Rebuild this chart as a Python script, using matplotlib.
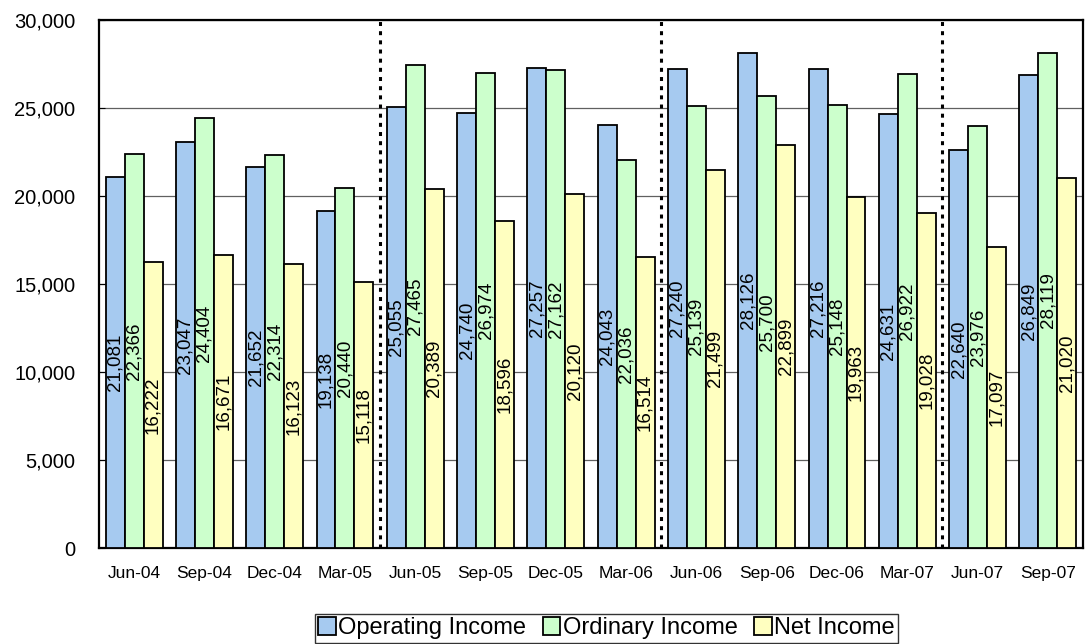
import numpy as np
import matplotlib
matplotlib.use("Agg")
import matplotlib.pyplot as plt

plt.rcParams['font.family'] = ['Liberation Sans', 'DejaVu Sans']

quarters = ["Jun-04", "Sep-04", "Dec-04", "Mar-05", "Jun-05", "Sep-05", "Dec-05",
            "Mar-06", "Jun-06", "Sep-06", "Dec-06", "Mar-07", "Jun-07", "Sep-07"]
operating = [21081, 23047, 21652, 19138, 25055, 24740, 27257,
             24043, 27240, 28126, 27216, 24631, 22640, 26849]
ordinary = [22366, 24404, 22314, 20440, 27465, 26974, 27162,
            22036, 25139, 25700, 25148, 26922, 23976, 28119]
net = [16222, 16671, 16123, 15118, 20389, 18596, 20120,
       16514, 21499, 22899, 19963, 19028, 17097, 21020]

series = [("Operating Income", operating, "#A6CAF0"),
          ("Ordinary Income", ordinary, "#CCFFCC"),
          ("Net Income", net, "#FFFFC0")]

fig = plt.figure(figsize=(10.85, 6.44), dpi=100)
ax = fig.add_axes([0.0912, 0.149, 0.907, 0.82])

x = np.arange(len(quarters))
w = 0.27
for i, (name, vals, col) in enumerate(series):
    pos = x + (i - 1) * w
    bars = ax.bar(pos, vals, width=w, color=col, edgecolor="black", linewidth=1.3,
                  label=name, zorder=3)
    for b, v in zip(bars, vals):
        ax.text(b.get_x() + b.get_width() / 2, v / 2, f"{v:,}", rotation=90,
                ha="center", va="center", fontsize=13.5, zorder=4)

# fiscal year separators
for sep in [3.5, 7.5, 11.5]:
    ax.axvline(sep, color="black", linestyle=(0, (1.3, 1.7)), linewidth=2.2, zorder=2)

ax.set_xlim(-0.5, len(quarters) - 0.5)
ax.set_ylim(0, 30000)
ax.set_yticks(np.arange(0, 30001, 5000))
ax.set_yticklabels([f"{t:,}" for t in range(0, 30001, 5000)], fontsize=14.5)
ax.set_xticks(x)
ax.set_xticklabels(quarters, fontsize=12.5)
ax.tick_params(axis="x", length=0, pad=13)
ax.tick_params(axis="y", length=4, direction="in", pad=17)
ax.grid(axis="y", color="#606060", linewidth=0.9, zorder=0)
for s in ax.spines.values():
    s.set_linewidth(1.6)
    s.set_color("black")

leg = fig.legend(loc="lower center", bbox_to_anchor=(0.559, 0.0), ncol=3,
                 fontsize=17, frameon=True, fancybox=False, edgecolor="black",
                 handlelength=0.75, handleheight=0.75, handletextpad=0.1,
                 columnspacing=0.7, borderpad=0.15, borderaxespad=0.05)
leg.get_frame().set_linewidth(1.0)

fig.savefig("out.png", dpi=100)
